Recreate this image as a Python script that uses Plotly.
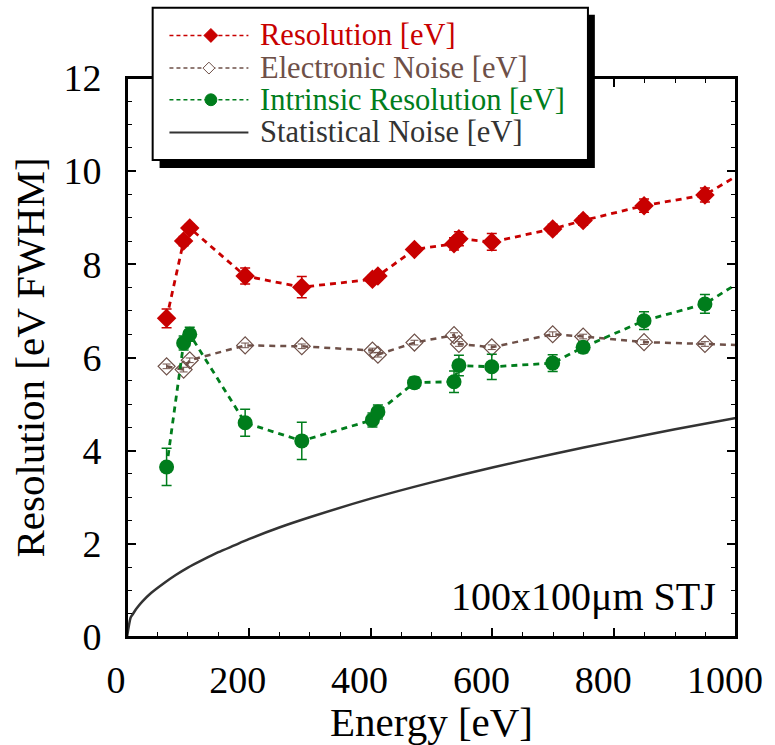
import plotly.graph_objects as go

# ---------------- data ----------------
energy = [65, 93, 103, 194, 287, 403, 412, 472, 537, 545, 599, 699, 749, 849, 949, 1040]
resolution = [6.84, 8.50, 8.78, 7.75, 7.51, 7.68, 7.75, 8.32, 8.44, 8.55, 8.48, 8.76, 8.94, 9.26, 9.49, 10.20]
resolution_err = [0.20, 0.10, 0.08, 0.17, 0.23, 0.08, 0.08, 0.08, 0.13, 0.15, 0.18, 0.10, 0.10, 0.14, 0.15, 0.15]
electronic = [5.81, 5.74, 5.94, 6.26, 6.24, 6.15, 6.06, 6.32, 6.48, 6.29, 6.22, 6.50, 6.45, 6.33, 6.29, 6.25]
electronic_err = [0.05] * 16
intrinsic = [3.65, 6.31, 6.50, 4.60, 4.21, 4.66, 4.83, 5.46, 5.48, 5.83, 5.80, 5.88, 6.22, 6.79, 7.15, 7.90]
intrinsic_err = [0.40, 0.15, 0.15, 0.29, 0.40, 0.15, 0.15, 0.12, 0.23, 0.22, 0.27, 0.18, 0.12, 0.19, 0.20, 0.20]

stat_energy = [0, 6, 10, 15, 25, 40, 60, 80, 100, 125, 150, 175, 200, 250, 300,
               400, 500, 600, 700, 800, 900, 1000]
stat_noise = [0, 0.42, 0.50, 0.60, 0.76, 0.95, 1.15, 1.33, 1.49, 1.66, 1.82, 1.96, 2.10,
              2.35, 2.57, 2.97, 3.32, 3.64, 3.93, 4.20, 4.46, 4.70]

x_tickvals = [0, 200, 400, 600, 800, 1000]
x_ticktext = ["0", "200", "400", "600", "800", "1000"]
y_tickvals = [0, 2, 4, 6, 8, 10, 12]
y_ticktext = ["0", "2", "4", "6", "8", "10", "12"]

legend_labels = ["Resolution [eV]", "Electronic Noise [eV]", "Intrinsic Resolution [eV]", "Statistical Noise [eV]"]

RED = "#c80000"
BROWN = "#6e5048"
GREEN = "#007d1c"
DARK = "#333333"
FONT = "Liberation Serif"

# ---------------- layout geometry ----------------
W, H = 775, 745
ML, MR, MT, MB = 127, 31, 78, 102
PW = W - ML - MR
PH = H - MT - MB


def px(xp):
    return (xp - ML) / PW


def py(yp):
    return (H - MB - yp) / PH


fig = go.Figure()

fig.add_trace(go.Scatter(
    x=stat_energy, y=stat_noise, mode="lines",
    line=dict(color=DARK, width=2.5, shape="spline", smoothing=0.6),
    showlegend=False, hoverinfo="skip"))

fig.add_trace(go.Scatter(
    x=energy, y=electronic, mode="lines+markers",
    line=dict(color=BROWN, width=2.5, dash="6px,5px"),
    marker=dict(symbol="diamond-open", size=13, color=BROWN, line=dict(width=1.2)),
    error_y=dict(type="data", array=electronic_err, color=BROWN, thickness=1, width=4),
    showlegend=False))

fig.add_trace(go.Scatter(
    x=energy, y=resolution, mode="lines+markers",
    line=dict(color=RED, width=2.8, dash="6px,5px"),
    marker=dict(symbol="diamond", size=15, color=RED),
    error_y=dict(type="data", array=resolution_err, color=RED, thickness=1.5, width=5),
    showlegend=False))

fig.add_trace(go.Scatter(
    x=energy, y=intrinsic, mode="lines+markers",
    line=dict(color=GREEN, width=2.8, dash="6px,5px"),
    marker=dict(symbol="circle", size=15, color=GREEN),
    error_y=dict(type="data", array=intrinsic_err, color=GREEN, thickness=1.5, width=5),
    showlegend=False))

shapes = []
# plot frame
shapes.append(dict(type="rect", xref="x domain", yref="y domain",
                   x0=0, x1=1, y0=0, y1=1,
                   line=dict(color="black", width=2), fillcolor="rgba(0,0,0,0)", layer="above"))
# ---------------- legend (drawn manually) ----------------
shapes.append(dict(type="rect", xref="paper", yref="paper",
                   x0=px(160), x1=px(601), y0=py(169), y1=py(14),
                   fillcolor="black", line=dict(width=0), layer="above"))
shapes.append(dict(type="rect", xref="paper", yref="paper",
                   x0=px(153), x1=px(594), y0=py(161), y1=py(7),
                   fillcolor="white", line=dict(color="black", width=2), layer="above"))

rows_y = [35, 68, 100, 133]
colors = [RED, BROWN, GREEN, DARK]
for i, (yy, c) in enumerate(zip(rows_y, colors)):
    shapes.append(dict(type="line", xref="paper", yref="paper",
                       x0=px(170), x1=px(250), y0=py(yy), y1=py(yy),
                       line=dict(color=c, width=1.5 if i < 3 else 2,
                                 dash="4px,3px" if i < 3 else "solid"),
                       layer="above"))


def diamond_path(cx, cy, r):
    return (f"M {px(cx - r)},{py(cy)} L {px(cx)},{py(cy - r)} "
            f"L {px(cx + r)},{py(cy)} L {px(cx)},{py(cy + r)} Z")


shapes.append(dict(type="path", xref="paper", yref="paper",
                   path=diamond_path(212, rows_y[0], 7),
                   fillcolor=RED, line=dict(color=RED, width=1), layer="above"))
shapes.append(dict(type="path", xref="paper", yref="paper",
                   path=diamond_path(210, rows_y[1], 6),
                   fillcolor="white", line=dict(color=BROWN, width=1), layer="above"))
shapes.append(dict(type="circle", xref="paper", yref="paper",
                   x0=px(206), x1=px(218), y0=py(rows_y[2] + 6), y1=py(rows_y[2] - 6),
                   fillcolor=GREEN, line=dict(color=GREEN, width=1), layer="above"))

annotations = []
for lab, yy, c in zip(legend_labels, rows_y, colors):
    annotations.append(dict(text=lab, xref="paper", yref="paper",
                            x=px(260), y=py(yy), xanchor="left", yanchor="middle",
                            showarrow=False, font=dict(family=FONT, size=30.5, color=c)))

annotations.append(dict(text="100x100μm STJ", xref="paper", yref="paper",
                        x=px(726), y=py(602), xanchor="right", yanchor="middle",
                        showarrow=False, font=dict(family=FONT, size=40, color="black")))

fig.update_layout(
    width=W, height=H,
    margin=dict(l=ML, r=MR, t=MT, b=MB),
    paper_bgcolor="white", plot_bgcolor="white",
    font=dict(family=FONT, color="black"),
    shapes=shapes, annotations=annotations,
    showlegend=False,
)

axis_common = dict(
    showgrid=False, zeroline=False, showline=True, linecolor="black", linewidth=2,
    mirror="ticks", ticks="inside", ticklen=9, tickwidth=1.5, tickcolor="black",
    tickfont=dict(family=FONT, size=38, color="black"),
)

fig.update_xaxes(
    range=[0, 1000], tickmode="array", tickvals=x_tickvals, ticktext=x_ticktext,
    minor=dict(ticks="inside", ticklen=5, tickwidth=1, tickcolor="black", dtick=50),
    title=dict(text="Energy [eV]", font=dict(family=FONT, size=41), standoff=4),
    ticklabelstandoff=8, ticklabelshift=-11, ticklabeloverflow="allow",
    **axis_common)

fig.update_yaxes(
    range=[0, 12], tickmode="array", tickvals=y_tickvals, ticktext=y_ticktext,
    minor=dict(ticks="inside", ticklen=5, tickwidth=1, tickcolor="black", dtick=0.5),
    title=dict(text="Resolution [eV FWHM]", font=dict(family=FONT, size=41), standoff=6),
    ticklabelstandoff=16,
    **axis_common)

fig.write_html("out.html")
